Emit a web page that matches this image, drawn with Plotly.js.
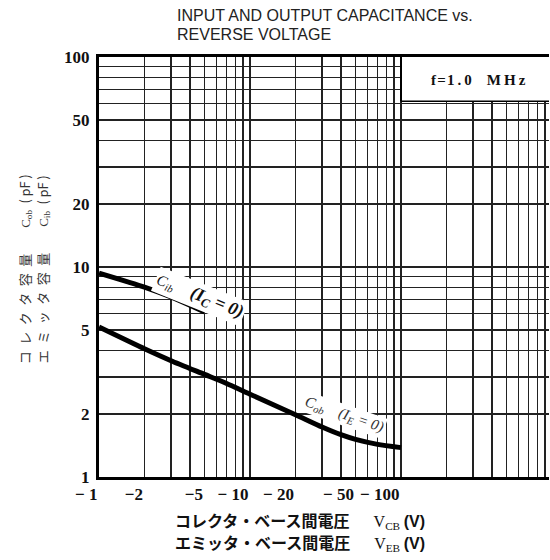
<!DOCTYPE html>
<html><head><meta charset="utf-8">
<script src="https://cdn.plot.ly/plotly-3.0.1.min.js"></script>
<style>html,body{margin:0;padding:0;background:#fff}#chart{width:550px;height:560px}</style>
</head><body><div id="chart"></div>
<script>
// Input capacitance Cib (IC = 0) vs |VEB|
const vCib = [1, 2, 3, 4, 5];
const cib = [9.36, 8.03, 7.2, 6.57, 6.1];
// Output capacitance Cob (IE = 0) vs |VCB|
const vCob = [1, 2, 3, 5, 7, 10, 20, 30, 40, 50, 70, 100];
const cob = [5.18, 4.08, 3.58, 3.08, 2.79, 2.48, 1.98, 1.73, 1.59, 1.51, 1.43, 1.38];
// grid / tick labels
const xGridVals = [1,2,3,4,5,6,7,8,9,10,20,30,40,50,60,70,80,90,100,200,300,400,500,600,700,800,900];
const xLabelVals = [1, 2, 5, 10, 20, 50, 100];
const xLabelText = ['\u2212 1', '\u22122', '\u22125', '\u2212 10', '\u2212 20', '\u2212 50', '\u2212 100'];
const yGridVals = [1,2,3,4,5,6,7,8,9,10,20,30,40,50,60,70,80,90,100];
const yLabelVals = [1, 2, 5, 10, 20, 50, 100];
const yLabelText = ['1', '2', '5', '10', '20', '50', '100'];
const titleLines = ['INPUT AND OUTPUT CAPACITANCE vs.', 'REVERSE VOLTAGE'];

const xText = xGridVals.map(v => { const i = xLabelVals.indexOf(v); return i >= 0 ? xLabelText[i] : ''; });
const yText = yGridVals.map(v => { const i = yLabelVals.indexOf(v); return i >= 0 ? yLabelText[i] : ''; });

const X_MAX_LOG = 2.98;
const serifB = {family: 'Liberation Serif, Times New Roman, serif', size: 17, color: '#111', weight: 700};
const titleFont = {family: 'Liberation Sans, Arial, sans-serif', size: 16, color: '#222'};

const traces = [
  {x: vCib, y: cib, mode: 'lines', line: {color: '#000', width: 5, shape: 'spline', smoothing: 0.6}, hoverinfo: 'none'},
  {x: vCob, y: cob, mode: 'lines', line: {color: '#000', width: 5, shape: 'spline', smoothing: 0.6}, hoverinfo: 'none'}
];

const layout = {
  width: 550, height: 560,
  margin: {l: 99, r: 1, t: 57, b: 83},
  paper_bgcolor: '#fff', plot_bgcolor: '#fff',
  showlegend: false,
  xaxis: {
    type: 'log', range: [0, X_MAX_LOG],
    tickmode: 'array', tickvals: xGridVals, ticktext: xText,
    ticks: '', ticklabelposition: 'outside left', ticklabelstandoff: 0,
    tickfont: serifB,
    showgrid: true, gridcolor: '#222', gridwidth: 1.5,
    showline: true, linecolor: '#000', linewidth: 3, mirror: true,
    zeroline: false, fixedrange: true
  },
  yaxis: {
    type: 'log', range: [0, 2],
    tickmode: 'array', tickvals: yGridVals, ticktext: yText,
    ticks: '', ticklabelstandoff: 3,
    tickfont: serifB,
    showgrid: true, gridcolor: '#222', gridwidth: 1.5,
    showline: true, linecolor: '#000', linewidth: 3, mirror: false,
    zeroline: false, fixedrange: true
  },
  shapes: [
    {type: 'rect', xref: 'x domain', yref: 'y domain', x0: 2/X_MAX_LOG, x1: 1, y0: 0.8945, y1: 1,
     fillcolor: '#fff', line: {width: 0}, layer: 'above'},
    {type: 'line', xref: 'x domain', yref: 'y domain', x0: 2/X_MAX_LOG, x1: 1, y0: 0.8945, y1: 0.8945,
     line: {color: '#000', width: 1.6}, layer: 'above'},
    {type: 'line', xref: 'x domain', yref: 'y domain', x0: 2/X_MAX_LOG, x1: 2/X_MAX_LOG, y0: 0.8945, y1: 1,
     line: {color: '#000', width: 2}, layer: 'above'}
  ],
  annotations: [
    {xref: 'paper', yref: 'paper', x: 0.1689, y: 1.099, xanchor: 'left', yanchor: 'middle', showarrow: false,
     text: titleLines[0], font: titleFont},
    {xref: 'paper', yref: 'paper', x: 0.1689, y: 1.054, xanchor: 'left', yanchor: 'middle', showarrow: false,
     text: titleLines[1], font: titleFont},
    {xref: 'paper', yref: 'paper', x: 0.843, y: 0.9445, xanchor: 'center', yanchor: 'middle', showarrow: false,
     text: 'f\u200a=\u200a1\u2009.\u20090\u2003M\u2009H\u2009z',
     font: {family: 'Liberation Serif, serif', size: 15, color: '#111', weight: 700}},
    {xref: 'x', yref: 'y', x: 0.669, y: 0.8605, xanchor: 'center', yanchor: 'middle', showarrow: false,
     textangle: 22, bgcolor: '#fff', borderpad: 1,
     text: '<span style="font-size:15px;font-weight:400">C<sub>ib</sub></span>\u2003(I<sub>C</sub> = 0)',
     font: {family: 'Liberation Serif, serif', size: 18, color: '#111', style: 'italic', weight: 700}},
    {xref: 'x', yref: 'y', x: 1.623, y: 0.294, xanchor: 'center', yanchor: 'middle', showarrow: false,
     textangle: 19, bgcolor: '#fff', borderpad: 1,
     text: 'C<sub>ob</sub>\u2003(I<sub>E</sub> = 0)',
     font: {family: 'Liberation Serif, serif', size: 15, color: '#333', style: 'italic'}},
    // x axis title, two lines
    {xref: 'paper', yref: 'paper', x: 0.1644, y: -0.1031, xanchor: 'left', yanchor: 'middle', showarrow: false,
     text: 'コレクタ・ベース間電圧\u3000\u2002<span style="font-family:Liberation Serif;font-weight:400">V<sub>CB</sub></span> <span style="font-family:Liberation Sans">(V)</span>',
     font: {family: 'Noto Sans CJK JP, sans-serif', size: 16, color: '#111', weight: 700}},
    {xref: 'paper', yref: 'paper', x: 0.1644, y: -0.1545, xanchor: 'left', yanchor: 'middle', showarrow: false,
     text: 'エミッタ・ベース間電圧\u3000\u2002<span style="font-family:Liberation Serif;font-weight:400">V<sub>EB</sub></span> <span style="font-family:Liberation Sans">(V)</span>',
     font: {family: 'Noto Sans CJK JP, sans-serif', size: 16, color: '#111', weight: 700}},
    // y axis title, two columns
    {xref: 'paper', yref: 'paper', x: -0.1644, y: 0.4945, xanchor: 'center', yanchor: 'middle', showarrow: false,
     textangle: -90,
     text: 'コ\u2002レ\u2002ク\u2002タ\u2002容\u2002量\u2003\u2003<span style="font-family:Liberation Serif">C<sub>ob</sub></span>\u2002(\u2009pF\u2009)',
     font: {family: 'Noto Sans CJK JP, sans-serif', size: 13, color: '#333'}},
    {xref: 'paper', yref: 'paper', x: -0.1244, y: 0.4945, xanchor: 'center', yanchor: 'middle', showarrow: false,
     textangle: -90,
     text: 'エ\u2002ミ\u2002ッ\u2002タ\u2002容\u2002量\u2003\u2003<span style="font-family:Liberation Serif">C<sub>ib</sub></span>\u2002(\u2009pF\u2009)',
     font: {family: 'Noto Sans CJK JP, sans-serif', size: 13, color: '#333'}}
  ]
};

Plotly.newPlot('chart', traces, layout, {staticPlot: true, displayModeBar: false});
</script>
</body></html>
